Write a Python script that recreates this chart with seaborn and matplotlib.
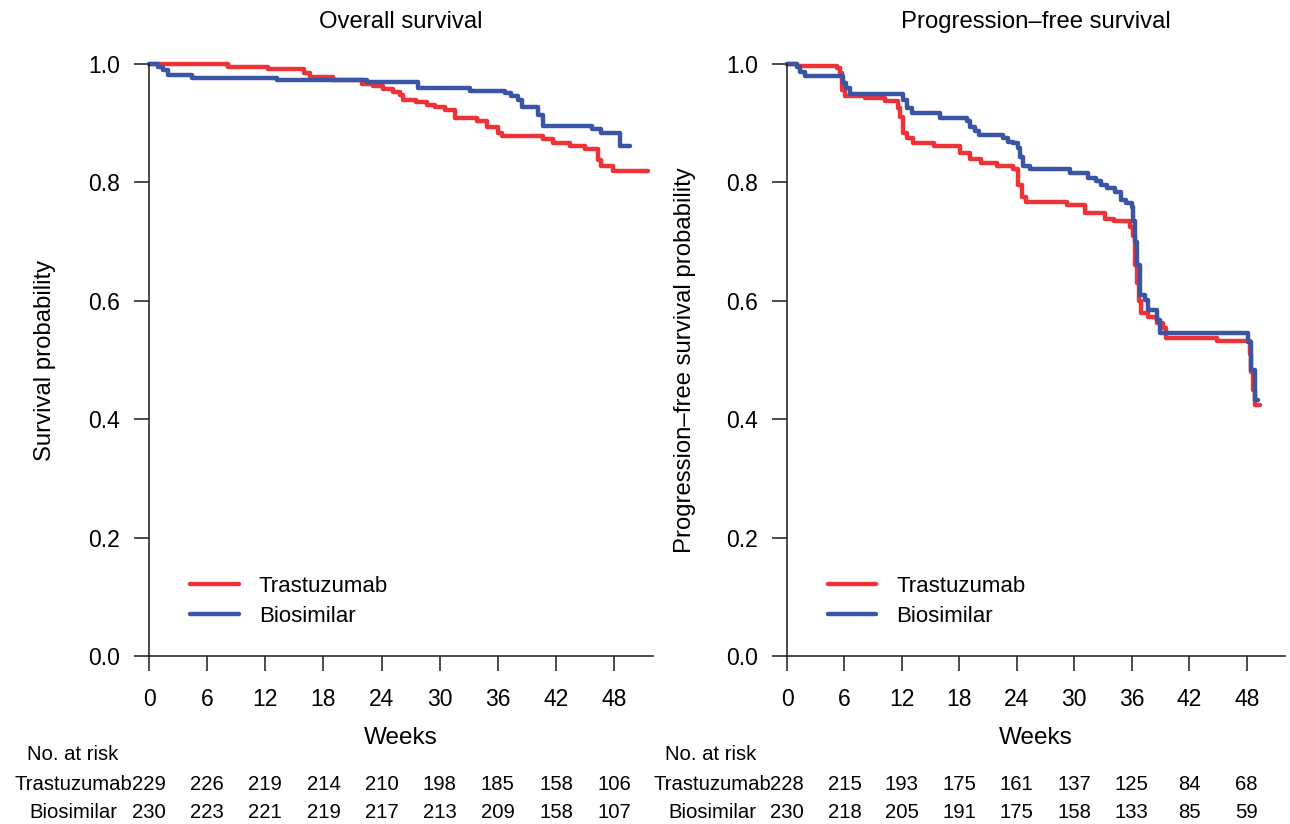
import numpy as np
import pandas as pd
import seaborn as sns
from matplotlib import pyplot as plt
from matplotlib import transforms
from matplotlib.ticker import FormatStrFormatter

# --- data (weeks, survival probability) ---
os_trast_wk = [0, 8.2, 12.3, 16.0, 16.6, 19.0, 22.0, 23.1, 24.1, 25.2, 25.9, 26.2, 27.5, 28.7,
               29.5, 30.5, 31.6, 33.8, 34.9, 36.0, 36.4, 40.6, 41.7, 43.4, 45.0, 46.3, 46.6, 47.9, 51.5]
os_trast_s = [1.0, 0.9955, 0.9916, 0.985, 0.9786, 0.973, 0.967, 0.962, 0.957, 0.953, 0.948, 0.939, 0.935,
              0.931, 0.927, 0.922, 0.908, 0.904, 0.894, 0.883, 0.878, 0.873, 0.867, 0.862, 0.856, 0.838,
              0.828, 0.820, 0.820]
os_bio_wk = [0, 0.95, 1.45, 2.0, 4.4, 13.2, 22.5, 27.8, 33.1, 36.7, 37.3, 38.1, 38.5, 40.1, 40.7,
             45.7, 46.6, 48.6, 49.6]
os_bio_s = [1.0, 0.9955, 0.990, 0.981, 0.977, 0.973, 0.969, 0.960, 0.955, 0.9505, 0.9465, 0.939, 0.927,
            0.914, 0.895, 0.890, 0.883, 0.8615, 0.8615]

pfs_trast_wk = [0, 1.0, 5.2, 5.5, 5.7, 6.05, 8.1, 10.2, 11.6, 11.8, 12.1, 12.5, 13.2, 15.4, 18.05, 19.1,
                20.3, 21.9, 23.6, 24.1, 24.5, 25.0, 29.2, 31.1, 33.2, 34.1, 35.8, 36.1, 36.3, 36.5, 36.8,
                37.0, 37.7, 38.6, 39.3, 39.6, 44.9, 48.3, 48.5, 48.7, 48.9, 49.4]
pfs_trast_s = [1.0, 0.9966, 0.993, 0.984, 0.956, 0.946, 0.942, 0.938, 0.925, 0.911, 0.883, 0.8745, 0.867,
               0.862, 0.849, 0.839, 0.833, 0.828, 0.822, 0.795, 0.776, 0.767, 0.762, 0.748, 0.739, 0.734,
               0.725, 0.71, 0.66, 0.63, 0.60, 0.58, 0.573, 0.5625, 0.5535, 0.538, 0.532, 0.51, 0.48,
               0.45, 0.424, 0.424]
pfs_bio_wk = [0, 1.0, 1.36, 1.9, 5.85, 6.2, 6.6, 12.1, 12.5, 13.0, 16.0, 18.8, 19.1, 19.6, 20.1, 22.6,
              23.1, 23.6, 24.1, 24.3, 24.6, 25.4, 29.5, 31.4, 32.3, 32.8, 33.4, 34.2, 34.9, 35.4, 36.0,
              36.15, 36.3, 36.5, 36.85, 37.4, 37.7, 38.6, 38.9, 48.15, 48.5, 48.9, 49.2]
pfs_bio_s = [1.0, 0.9955, 0.987, 0.980, 0.9685, 0.959, 0.950, 0.939, 0.925, 0.918, 0.909, 0.903, 0.894,
             0.886, 0.880, 0.8745, 0.869, 0.866, 0.858, 0.843, 0.827, 0.822, 0.8165, 0.807, 0.802, 0.796,
             0.791, 0.784, 0.770, 0.765, 0.759, 0.734, 0.70, 0.66, 0.61, 0.601, 0.5845, 0.5676, 0.545,
             0.531, 0.483, 0.432, 0.432]

risk_weeks = [0, 6, 12, 18, 24, 30, 36, 42, 48]
os_risk_trast = [229, 226, 219, 214, 210, 198, 185, 158, 106]
os_risk_bio = [230, 223, 221, 219, 217, 213, 209, 158, 107]
pfs_risk_trast = [228, 215, 193, 175, 161, 137, 125, 84, 68]
pfs_risk_bio = [230, 218, 205, 191, 175, 158, 133, 85, 59]

arms = ["Trastuzumab", "Biosimilar"]
colors = {"Trastuzumab": "#EE3338", "Biosimilar": "#3A55A4"}

sns.set_style("ticks")
plt.rcParams["font.family"] = ["Liberation Sans", "DejaVu Sans"]
plt.rcParams["text.color"] = "black"
plt.rcParams["xtick.color"] = "black"
plt.rcParams["ytick.color"] = "black"

W, H = 1290, 824
fig = plt.figure(figsize=(W / 100, H / 100), dpi=100)

def long_df(t_wk, t_s, b_wk, b_s):
    return pd.concat([
        pd.DataFrame({"week": t_wk, "surv": t_s, "arm": "Trastuzumab"}),
        pd.DataFrame({"week": b_wk, "surv": b_s, "arm": "Biosimilar"}),
    ], ignore_index=True)

panels = [
    dict(x0=149, x52=653, df=long_df(os_trast_wk, os_trast_s, os_bio_wk, os_bio_s),
         title="Overall survival", ylabel="Survival probability", ylab_x=45,
         risk=(os_risk_trast, os_risk_bio), lab_x=73, noatrisk_x=27),
    dict(x0=787, x52=1285, df=long_df(pfs_trast_wk, pfs_trast_s, pfs_bio_wk, pfs_bio_s),
         title="Progression\u2013free survival", ylabel="Progression\u2013free survival probability",
         ylab_x=685, risk=(pfs_risk_trast, pfs_risk_bio), lab_x=712, noatrisk_x=665),
]

y0_px, y1_px = 656, 64
for p in panels:
    ax = fig.add_axes([p["x0"] / W, 1 - y0_px / H, (p["x52"] - p["x0"]) / W, (y0_px - y1_px) / H])
    sns.lineplot(data=p["df"], x="week", y="surv", hue="arm", hue_order=arms, palette=colors,
                 estimator=None, sort=False, drawstyle="steps-post", linewidth=3.2,
                 clip_on=False, ax=ax)
    ax.set_xlim(0, 52)
    ax.set_ylim(0, 1)
    ax.set_xticks(risk_weeks)
    ax.set_yticks([0, 0.2, 0.4, 0.6, 0.8, 1.0])
    ax.yaxis.set_major_formatter(FormatStrFormatter("%.1f"))
    sns.despine(ax=ax)
    for s in ["left", "bottom"]:
        ax.spines[s].set_linewidth(1.1)
        ax.spines[s].set_color("#1a1a1a")
    ax.tick_params(axis="both", length=11, width=1.1, color="#1a1a1a", labelsize=16.5)
    ax.tick_params(axis="x", pad=12)
    ax.tick_params(axis="y", pad=10)
    ax.set_xlabel("")
    ax.set_ylabel("")
    leg = ax.legend(loc="upper left", bbox_to_anchor=((190 - 149) / 504, (656 - 576) / 592),
                    frameon=False, fontsize=16, handlelength=2.2, handletextpad=0.9,
                    labelspacing=0.4, borderpad=0, borderaxespad=0)
    for line in leg.get_lines():
        line.set_linewidth(3.2)

    cx = (p["x0"] + p["x52"]) / 2 / W
    fig.text(cx, 1 - 22 / H, p["title"], ha="center", va="center", fontsize=17.2)
    fig.text(cx, 1 - 738 / H, "Weeks", ha="center", va="center", fontsize=17.5)
    fig.text(p["ylab_x"] / W, 1 - 360 / H, p["ylabel"], ha="center", va="center",
             rotation=90, fontsize=17.2)

    # number at risk table
    tr = transforms.blended_transform_factory(ax.transData, fig.transFigure)
    fig.text(p["noatrisk_x"] / W, 1 - 755 / H, "No. at risk", ha="left", va="center", fontsize=14.6)
    for row_y, arm, counts in zip([785, 813], arms, p["risk"]):
        fig.text(p["lab_x"] / W, 1 - row_y / H, arm, ha="center", va="center", fontsize=14.6)
        for wk, n in zip(risk_weeks, counts):
            ax.text(wk, 1 - row_y / H, str(n), transform=tr, ha="center", va="center", fontsize=14.6)

fig.savefig("out.png", dpi=100)
